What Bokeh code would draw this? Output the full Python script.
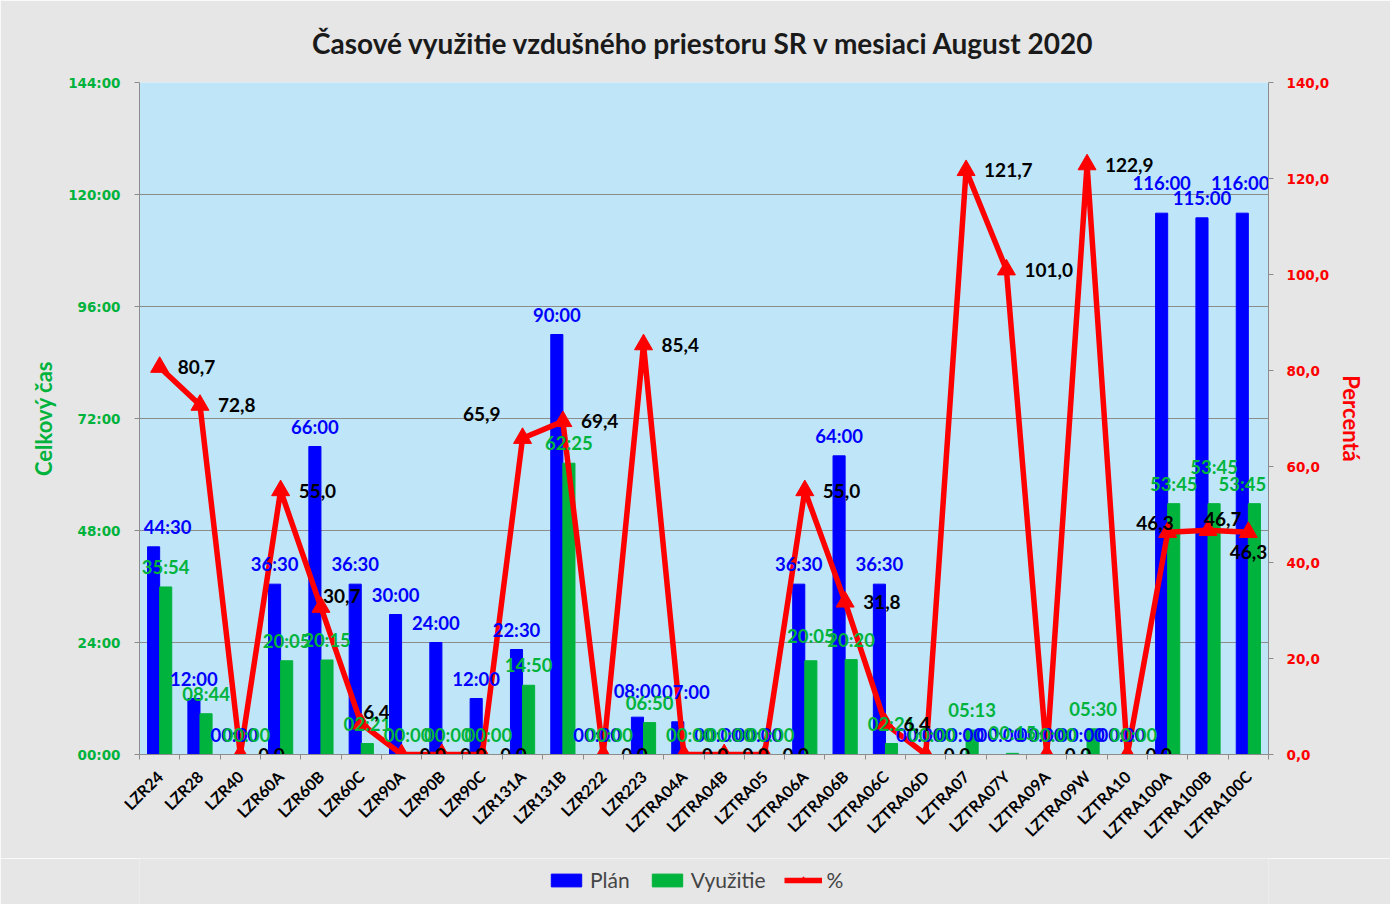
import math
from bokeh.plotting import figure
from bokeh.layouts import column
from bokeh.models import Range1d, LinearAxis, FixedTicker, ColumnDataSource, Legend, LegendItem
from bokeh.core.properties import value
from bokeh.embed import file_html
from bokeh.resources import INLINE

categories = ["LZR24", "LZR28", "LZR40", "LZR60A", "LZR60B", "LZR60C", "LZR90A", "LZR90B",
              "LZR90C", "LZR131A", "LZR131B", "LZR222", "LZR223", "LZTRA04A", "LZTRA04B",
              "LZTRA05", "LZTRA06A", "LZTRA06B", "LZTRA06C", "LZTRA06D", "LZTRA07", "LZTRA07Y",
              "LZTRA09A", "LZTRA09W", "LZTRA10", "LZTRA100A", "LZTRA100B", "LZTRA100C"]
plan = ["44:30", "12:00", "00:00", "36:30", "66:00", "36:30", "30:00", "24:00", "12:00", "22:30",
        "90:00", "00:00", "08:00", "07:00", "00:00", "00:00", "36:30", "64:00", "36:30", "00:00",
        "00:00", "00:00", "00:00", "00:00", "00:00", "116:00", "115:00", "116:00"]
usage = ["35:54", "08:44", "00:00", "20:05", "20:15", "02:21", "00:00", "00:00", "00:00", "14:50",
         "62:25", "00:00", "06:50", "00:00", "00:00", "00:00", "20:05", "20:20", "02:21", "00:00",
         "05:13", "00:15", "00:00", "05:30", "00:00", "53:45", "53:45", "53:45"]
pct = [80.7, 72.8, 0.0, 55.0, 30.7, 6.4, 0.0, 0.0, 0.0, 65.9, 69.4, 0.0, 85.4, 0.0, 0.0, 0.0,
       55.0, 31.8, 6.4, 0.0, 121.7, 101.0, 0.0, 122.9, 0.0, 46.3, 46.7, 46.3]
left_ticks = [0, 24, 48, 72, 96, 120, 144]
right_ticks = [0, 20, 40, 60, 80, 100, 120, 140]


def hours(s):
    h, m = s.split(":")
    return int(h) + int(m) / 60.0


n = len(categories)
xc = [i + 0.5 for i in range(n)]
bw = 0.3
xb = [x - bw / 2 for x in xc]
xg = [x + bw / 2 for x in xc]
plan_h = [hours(s) for s in plan]
usage_h = [hours(s) for s in usage]
pct_txt = [f"{v:.1f}".replace(".", ",") for v in pct]

# label nudges in pixels (layout only)
pct_dx = [18] * n
pct_dy = [0] * n
pct_align = ["left"] * n
for k, (dx, dy, al) in {"LZR131A": (-22, -24, "right"), "LZR60B": (2, -11, "left"),
                        "LZR60C": (2, -12, "left"), "LZTRA100A": (6, -9, "right"),
                        "LZTRA100B": (-4, -11, "left"), "LZTRA100C": (19, 20, "right")}.items():
    i = categories.index(k)
    pct_dx[i], pct_dy[i], pct_align[i] = dx, dy, al
plan_dx = [0] * n
plan_dy = [-9] * n
for k, (dx, dy) in {"LZR24": (14, -9), "LZTRA100A": (0, -19), "LZTRA100C": (-2, -19),
                    "LZR223": (0, -15), "LZTRA04A": (8, -19)}.items():
    i = categories.index(k)
    plan_dx[i], plan_dy[i] = dx, dy
use_dx = [0] * n
use_dy = [-9] * n
for k, (dx, dy) in {"LZTRA100C": (-12, -9), "LZTRA100B": (0, -26), "LZTRA06A": (0, -14)}.items():
    i = categories.index(k)
    use_dx[i], use_dy[i] = dx, dy

BLUE = "#0000ff"
GREEN = "#00b33c"
RED = "#ff0000"
GRID = "#8c8c8c"
BG = "#e6e6e6"
FONT = "Lato"

W, H1, H2 = 1390, 858, 46
p = figure(width=W, height=H1, x_range=Range1d(0, n), y_range=Range1d(0, 144),
           output_backend="svg", toolbar_location=None,
           min_border_left=139, min_border_right=W - 1268, min_border_top=82,
           min_border_bottom=H1 - 754)
p.background_fill_color = "#bee6f8"
p.border_fill_color = BG
p.outline_line_color = None
p.extra_y_ranges = {"pct": Range1d(0, 140)}

p.title.text = "Časové využitie vzdušného priestoru SR v mesiaci August 2020"
p.title.align = "center"
p.title.text_font = FONT
p.title.text_font_size = "28px"
p.title.text_font_style = "bold"
p.title.text_color = "#1a1a1a"
p.title.standoff = 46

# left axis
ya = p.yaxis[0]
ya.ticker = FixedTicker(ticks=left_ticks)
ya.major_label_overrides = {t: f"{t:02d}:00" for t in left_ticks}
ya.major_label_text_color = GREEN
ya.major_label_text_font = "DejaVu Sans"
ya.major_label_text_font_style = "bold"
ya.major_label_text_font_size = "13.5px"
ya.major_label_standoff = 14
ya.axis_line_color = GRID
ya.major_tick_line_color = GRID
ya.major_tick_in = 0
ya.major_tick_out = 5
ya.minor_tick_line_color = None
ya.axis_label = "Celkový čas"
ya.axis_label_text_color = GREEN
ya.axis_label_text_font = FONT
ya.axis_label_text_font_style = "bold"
ya.axis_label_text_font_size = "22px"
ya.axis_label_standoff = 8

# right axis
ra = LinearAxis(y_range_name="pct", ticker=FixedTicker(ticks=right_ticks))
ra.major_label_overrides = {t: f"{t},0" for t in right_ticks}
ra.major_label_text_color = RED
ra.major_label_text_font = "DejaVu Sans"
ra.major_label_text_font_style = "bold"
ra.major_label_text_font_size = "13.5px"
ra.major_label_standoff = 13
ra.axis_line_color = GRID
ra.major_tick_line_color = GRID
ra.major_tick_in = 0
ra.major_tick_out = 5
ra.minor_tick_line_color = None
ra.axis_label = "Percentá"
ra.axis_label_text_color = RED
ra.axis_label_text_font = FONT
ra.axis_label_text_font_style = "bold"
ra.axis_label_text_font_size = "22px"
ra.axis_label_standoff = 6
p.add_layout(ra, "right")

# bottom axis
xa = p.xaxis[0]
xa.ticker = FixedTicker(ticks=xc, minor_ticks=list(range(n + 1)))
xa.major_label_overrides = {x: c for x, c in zip(xc, categories)}
xa.major_label_orientation = math.pi / 4
xa.major_label_text_font = FONT
xa.major_label_text_font_style = "bold"
xa.major_label_text_font_size = "16px"
xa.major_label_text_color = "black"
xa.major_tick_in = 0
xa.major_tick_out = 0
xa.minor_tick_in = 0
xa.minor_tick_out = 5
xa.minor_tick_line_color = GRID
xa.axis_line_color = GRID
xa.major_label_standoff = 14

p.xgrid.grid_line_color = None
p.ygrid.grid_line_color = GRID
p.ygrid.grid_line_width = 1.2

src = ColumnDataSource(dict(xc=xc, xb=xb, xg=xg, plan_h=plan_h, usage_h=usage_h, pct=pct,
                            plan=plan, usage=usage, pct_txt=pct_txt,
                            pct_dx=pct_dx, pct_dy=pct_dy, pct_align=pct_align,
                            plan_dx=plan_dx, plan_dy=plan_dy, use_dx=use_dx, use_dy=use_dy))

p.vbar(x="xb", top="plan_h", width=bw, color=BLUE, source=src)
p.vbar(x="xg", top="usage_h", width=bw, color=GREEN, source=src)
p.line(x="xc", y="pct", color=RED, line_width=5.5, y_range_name="pct", source=src)
p.scatter(x="xc", y="pct", marker="triangle", size=18, color=RED, y_range_name="pct", source=src)

p.text(x="xb", y="plan_h", text="plan", source=src, text_color=BLUE, text_font=value(FONT),
       text_font_style="bold", text_font_size="18.5px", text_align="center",
       text_baseline="bottom", x_offset="plan_dx", y_offset="plan_dy")
p.text(x="xg", y="usage_h", text="usage", source=src, text_color=GREEN, text_font=value(FONT),
       text_font_style="bold", text_font_size="18.5px", text_align="center",
       text_baseline="bottom", x_offset="use_dx", y_offset="use_dy")
p.text(x="xc", y="pct", text="pct_txt", source=src, text_color="black", text_font=value(FONT),
       text_font_style="bold", text_font_size="19px", text_align="pct_align",
       text_baseline="middle", x_offset="pct_dx", y_offset="pct_dy", y_range_name="pct")

# legend strip (separate figure so the legend sits below the axis labels)
q = figure(width=W, height=H2, x_range=Range1d(0, 1), y_range=Range1d(0, 1),
           output_backend="svg", toolbar_location=None, min_border=0)
q.axis.visible = False
q.grid.visible = False
q.outline_line_color = None
q.background_fill_color = BG
q.border_fill_color = BG
l_plan = q.vbar(x=[-5], top=[0], width=0.1, color=BLUE)
l_use = q.vbar(x=[-5], top=[0], width=0.1, color=GREEN)
l_line = q.line(x=[-5, -4], y=[-5, -5], color=RED, line_width=5.5)
l_mark = q.scatter(x=[-5], y=[-5], marker="triangle", size=18, color=RED)
legend = Legend(items=[LegendItem(label="Plán", renderers=[l_plan]),
                       LegendItem(label="Využitie", renderers=[l_use]),
                       LegendItem(label="%", renderers=[l_line, l_mark])],
                orientation="horizontal", location=(408, 12),
                label_text_font=FONT, label_text_font_size="21px",
                glyph_width=38, glyph_height=16, spacing=18, label_standoff=5,
                background_fill_alpha=0, border_line_color=None, padding=0, margin=0)
q.add_layout(legend, "center")

layout = column(p, q, spacing=0)
open("out.html", "w").write(file_html(layout, INLINE))
